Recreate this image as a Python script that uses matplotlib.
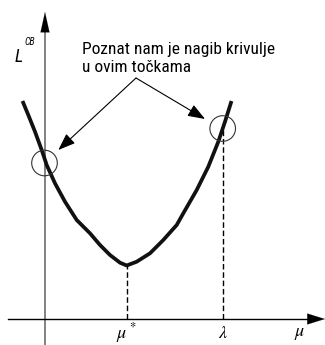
import matplotlib
matplotlib.use('Agg')
import matplotlib.pyplot as plt
from matplotlib.patches import Circle

plt.rcParams['mathtext.fontset'] = 'stix'

# krivulja L^CB(mu)
mu = [-1.125, -0.835, -0.5, -0.165, 0.085, 0.5, 1.0, 1.585, 2.25, 2.75,
      3.25, 3.75, 4.085, 4.585, 5.25, 5.915, 6.585, 6.915, 7.585, 8.165,
      8.665, 9.0, 9.325]
L = [10.9, 10.2, 9.365, 8.45, 7.7, 6.785, 5.865, 4.95, 4.285, 3.7,
     3.2, 2.815, 2.675, 2.865, 3.285, 3.95, 4.7, 5.285, 6.45, 7.615,
     8.865, 9.865, 10.9]

mu_star = 4.085
L_min = 2.675
lam = 8.9
L_lam = 9.45

# tocke u kojima je poznat nagib
circle_mu = [-0.025, 8.885]
circle_L = [7.8, 9.525]

label_text = 'Poznat nam je nagib krivulje\nu ovim točkama'
tick_names = [r'$\mu^*$', r'$\lambda$', r'$\mu$']
tick_pos = [mu_star, lam, 12.75]

fonts = ['Roboto Condensed', 'DejaVu Sans']

fig = plt.figure(figsize=(3.25, 3.45), dpi=100)
ax = fig.add_axes([0, 0, 1, 1])
ax.set_xlim(-2.25, 14.0)
ax.set_ylim(-1.3, 15.95)
ax.axis('off')

# osi
ax.plot([0, 0], [-1.3, 14.5], color='#777777', lw=1.3, zorder=1)
ax.annotate('', xy=(0, 15.35), xytext=(0, 14.3),
            arrowprops=dict(arrowstyle='-|>,head_length=1.03,head_width=0.23',
                            color='black', lw=0.1, mutation_scale=14,
                            shrinkA=0, shrinkB=0))
ax.plot([-1.85, 13.6], [0, 0], color='black', lw=1.0, zorder=1)
ax.annotate('', xy=(14.0, 0), xytext=(13.2, 0),
            arrowprops=dict(arrowstyle='-|>,head_length=0.9,head_width=0.28',
                            color='black', lw=0.1, mutation_scale=14,
                            shrinkA=0, shrinkB=0))

# isprekidane linije
ax.plot([mu_star, mu_star], [0, L_min], color='black', lw=1.0,
        ls=(0, (4, 2)), zorder=2)
ax.plot([lam, lam], [0, L_lam], color='black', lw=1.0,
        ls=(0, (4, 2)), zorder=2)

# krivulja
ax.plot(mu, L, color='#111111', lw=2.7, solid_joinstyle='round',
        solid_capstyle='butt', zorder=3)

# kruzici
for cm, cl in zip(circle_mu, circle_L):
    ax.add_patch(Circle((cm, cl), 0.64, fill=False, ec='#333333', lw=0.8, zorder=4))

# tekst i strelice
ax.text(1.85, 12.35, label_text, fontsize=12.5, family=fonts,
        linespacing=1.25, va='baseline', ha='left')
for tip in [(0.665, 8.45), (8.0, 10.0)]:
    ax.annotate('', xy=tip, xytext=(4.55, 12.05),
                arrowprops=dict(arrowstyle='-|>,head_length=0.75,head_width=0.28',
                                color='black', lw=0.8, mutation_scale=14,
                                shrinkA=0, shrinkB=0))

# oznake
ax.text(-1.325, 13.075, 'L', fontsize=13, style='italic',
        family=fonts, ha='center', va='center')
ax.text(-0.75, 13.85, 'CB', fontsize=7, style='italic',
        family=fonts, ha='center', va='center')
for name, pos in zip(tick_names, tick_pos):
    ax.text(pos, -0.72, name, fontsize=13, ha='center', va='center')

fig.savefig('out.png', dpi=100)
